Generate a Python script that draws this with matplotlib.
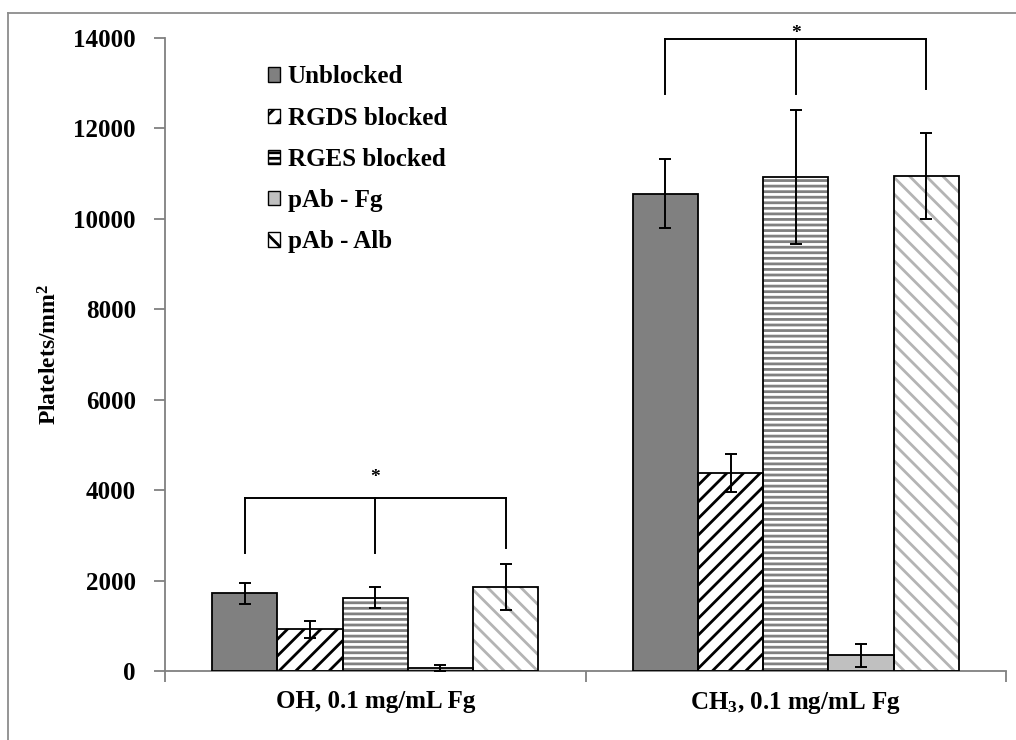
import matplotlib
matplotlib.use("Agg")
import matplotlib.pyplot as plt
from matplotlib.patches import Patch
from matplotlib.lines import Line2D
import numpy as np

plt.rcParams['font.family'] = ['Liberation Serif', 'DejaVu Serif']
plt.rcParams['font.weight'] = 'bold'
plt.rcParams['axes.labelweight'] = 'bold'
plt.rcParams['mathtext.fontset'] = 'custom'
plt.rcParams['mathtext.rm'] = 'Liberation Serif:bold'
plt.rcParams['mathtext.it'] = 'Liberation Serif:bold:italic'
plt.rcParams['mathtext.bf'] = 'Liberation Serif:bold'
plt.rcParams['mathtext.default'] = 'rm'
plt.rcParams['hatch.linewidth'] = 2.0

# Datos
superficies = ['OH, 0.1 mg/mL Fg', 'CH$_3$, 0.1 mg/mL Fg']
tratamientos = ['Unblocked', 'RGDS blocked', 'RGES blocked', 'pAb - Fg', 'pAb - Alb']
plaquetas = {
    'Unblocked':    [1720, 10560],
    'RGDS blocked': [920, 4380],
    'RGES blocked': [1620, 10920],
    'pAb - Fg':     [70, 350],
    'pAb - Alb':    [1860, 10950],
}
errores = {
    'Unblocked':    [230, 760],
    'RGDS blocked': [180, 430],
    'RGES blocked': [230, 1480],
    'pAb - Fg':     [60, 250],
    'pAb - Alb':    [510, 950],
}
# Corchetes de significancia: (altura, base izq, base centro, base der)
corchetes = [(3820, 2620, 2620, 2720), (13980, 12760, 12760, 12880)]
sep_asterisco = [280, -60]

# Estilo de cada serie: relleno, color de trama, trama
estilos = {
    'Unblocked':    ('#808080', None, ''),
    'RGDS blocked': ('white', 'black', '//'),
    'RGES blocked': ('white', '#808080', '---'),
    'pAb - Fg':     ('#c0c0c0', None, ''),
    'pAb - Alb':    ('white', '#b4b4b4', '\\\\'),
}

fig = plt.figure(figsize=(10.16, 7.4), dpi=100)
ax = fig.add_axes([0.1624, 0.0932, 0.8278, 0.8554])

x = np.arange(len(superficies))
ancho = 0.155
n = len(tratamientos)
centros = {}
for i, t in enumerate(tratamientos):
    pos = x + (i - (n - 1) / 2) * ancho
    centros[t] = pos
    relleno, trama_color, trama = estilos[t]
    if trama:
        ax.bar(pos, plaquetas[t], ancho, color=relleno, edgecolor=trama_color,
               hatch=trama, linewidth=0, zorder=2)
        ax.bar(pos, plaquetas[t], ancho, color='none', edgecolor='black',
               linewidth=1.3, zorder=3)
    else:
        ax.bar(pos, plaquetas[t], ancho, color=relleno, edgecolor='black',
               linewidth=1.3, zorder=3)
    ax.errorbar(pos, plaquetas[t], yerr=errores[t], fmt='none', ecolor='black',
                elinewidth=1.4, capsize=4, capthick=1.4, zorder=4)

# Corchetes con asterisco
for g, (alto, b1, b2, b3) in enumerate(corchetes):
    xs = [centros['Unblocked'][g], centros['RGES blocked'][g], centros['pAb - Alb'][g]]
    ax.plot([xs[0], xs[2]], [alto, alto], color='black', lw=1.4, clip_on=False, zorder=5)
    for xx, base in zip(xs, [b1, b2, b3]):
        ax.plot([xx, xx], [base, alto], color='black', lw=1.4, clip_on=False, zorder=5)
    ax.text(xs[1], alto + sep_asterisco[g], '*', ha='center', va='bottom', fontsize=14,
            clip_on=False)

ax.set_xlim(-0.5, 1.5)
ax.set_ylim(0, 14000)
ax.set_yticks(range(0, 14001, 2000))
ax.set_xticks([-0.5, 0.5, 1.5])
ax.set_xticklabels([])
ax.set_xticks(x, minor=True)
ax.set_xticklabels(superficies, minor=True)
ax.tick_params(axis='x', which='minor', length=0, pad=14, labelsize=18)
ax.tick_params(axis='x', which='major', length=8, width=1.3, color='#808080', direction='out')
ax.tick_params(axis='y', length=8, width=1.3, color='#808080', direction='out',
               pad=13, labelsize=18)

for s in ['top', 'right']:
    ax.spines[s].set_visible(False)
for s in ['left', 'bottom']:
    ax.spines[s].set_color('#808080')
    ax.spines[s].set_linewidth(1.3)

ax.set_ylabel('Platelets/mm$^2$', fontsize=17, fontweight='bold')
ax.yaxis.set_label_coords(-0.1225, 0.5)

manijas = []
for t in tratamientos:
    relleno, trama_color, trama = estilos[t]
    manijas.append(Patch(facecolor=relleno, edgecolor='black', hatch=trama, linewidth=1.0))
ax.legend(manijas, tratamientos, loc='upper left', bbox_to_anchor=(0.122, 0.957),
          frameon=False, fontsize=18, handlelength=0.5, handleheight=0.5,
          handletextpad=0.3, labelspacing=0.73, borderpad=0, borderaxespad=0)

# Marco exterior de la figura
fig.add_artist(Line2D([8 / 1016, 8 / 1016], [0, 1 - 13 / 740], color='#8c8c8c', lw=1.3))
fig.add_artist(Line2D([8 / 1016, 1], [1 - 13 / 740, 1 - 13 / 740], color='#8c8c8c', lw=1.3))

fig.savefig('out.png', dpi=100)
